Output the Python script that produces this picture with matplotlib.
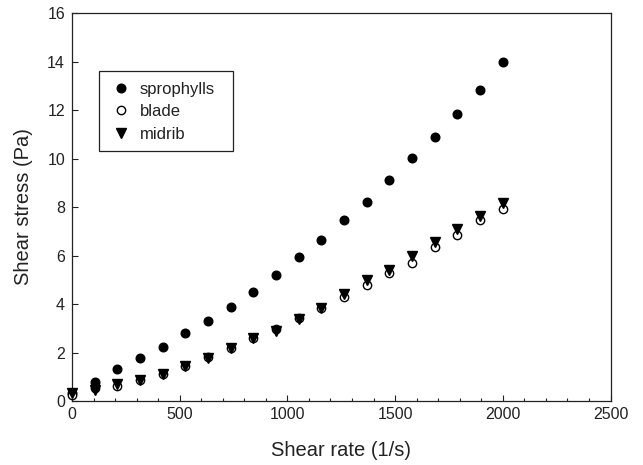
import matplotlib
matplotlib.use("Agg")
import matplotlib.pyplot as plt
from matplotlib.ticker import MultipleLocator
from matplotlib.patches import Rectangle

shear_rate = [0.5, 105, 210, 316, 421, 526, 632, 737, 842, 947,
              1053, 1158, 1263, 1368, 1474, 1579, 1684, 1789, 1895, 2000]
sprophylls = [0.32, 0.77, 1.32, 1.76, 2.24, 2.82, 3.30, 3.86, 4.49, 5.20,
              5.95, 6.65, 7.48, 8.19, 9.10, 10.02, 10.90, 11.82, 12.81, 13.97]
blade = [0.25, 0.52, 0.62, 0.85, 1.12, 1.45, 1.82, 2.18, 2.58, 2.95,
         3.43, 3.84, 4.30, 4.80, 5.27, 5.70, 6.36, 6.86, 7.46, 7.92]
midrib = [0.34, 0.45, 0.69, 0.88, 1.13, 1.44, 1.78, 2.20, 2.59, 2.90,
          3.38, 3.84, 4.40, 4.99, 5.40, 5.98, 6.57, 7.08, 7.63, 8.15]

plt.rcParams['font.family'] = ['Liberation Sans', 'DejaVu Sans']
fc = '#222222'

W, H = 643, 465
x0, x1, y0, y1 = 72, 610.5, 13, 401  # axes box in pixels (top-left origin)

fig = plt.figure(figsize=(W/100, H/100), dpi=100)
ax = fig.add_axes([x0/W, (H-y1)/H, (x1-x0)/W, (y1-y0)/H])

def ax_frac(px, py):
    return (px - x0) / (x1 - x0), (y1 - py) / (y1 - y0)

ax.plot(shear_rate, sprophylls, 'o', color='black', markersize=6.2,
        label='sprophylls', clip_on=False, zorder=3)
ax.plot(shear_rate, blade, 'o', markerfacecolor='white', markeredgecolor='black',
        markeredgewidth=1.0, markersize=6.0, label='blade', clip_on=False, zorder=3)
ax.plot(shear_rate, midrib, 'v', color='black', markersize=6.5,
        label='midrib', clip_on=False, zorder=4)

ax.set_xlim(0, 2500)
ax.set_ylim(0, 16)
ax.xaxis.set_major_locator(MultipleLocator(500))
ax.xaxis.set_minor_locator(MultipleLocator(100))
ax.yaxis.set_major_locator(MultipleLocator(2))

ax.tick_params(axis='both', which='major', direction='in', length=4.5, width=0.8,
               labelsize=11.5, colors=fc, top=False, right=False)
ax.tick_params(axis='x', which='major', pad=4)
ax.tick_params(axis='y', which='major', pad=5)
ax.tick_params(axis='x', which='minor', direction='in', length=2.5, width=0.8,
               colors=fc, top=False)

for s in ax.spines.values():
    s.set_linewidth(0.9)
    s.set_color(fc)

ax.set_xlabel('Shear rate (1/s)', fontsize=14.5, color=fc, labelpad=14)
ax.set_ylabel('Shear stress (Pa)', fontsize=14.5, color=fc, labelpad=10)

# legend frame
fx0, fy0 = ax_frac(99, 151)
fx1, fy1 = ax_frac(233, 71)
ax.add_patch(Rectangle((fx0, fy0), fx1 - fx0, fy1 - fy0, transform=ax.transAxes,
                       facecolor='white', edgecolor=fc, linewidth=0.9, zorder=5,
                       clip_on=False))

lfs = 12
hl_px = lfs * 100 / 72
ax_anchor = ax_frac(121 - hl_px / 2, 81.5)
leg = ax.legend(loc='upper left', bbox_to_anchor=ax_anchor,
                fontsize=lfs, frameon=False,
                handlelength=1.0, handletextpad=0.62, borderpad=0,
                labelspacing=0.46, borderaxespad=0)
leg.set_zorder(6)
for t in leg.get_texts():
    t.set_color(fc)

fig.savefig('out.png', dpi=100)
